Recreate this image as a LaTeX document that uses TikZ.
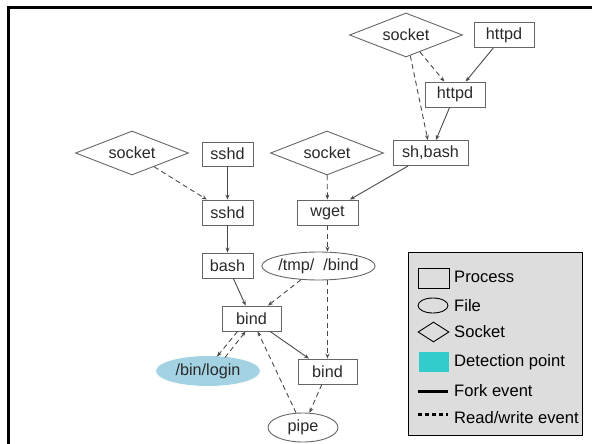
\documentclass[tikz,border=0pt]{standalone}
\usepackage{fontspec}
\setmainfont{Liberation Sans}
\usetikzlibrary{shapes.geometric,arrows.meta}
\definecolor{nodegray}{HTML}{666666}
\definecolor{edgegray}{HTML}{4A4A4A}
\definecolor{txtgray}{HTML}{2A2A2A}
\definecolor{legfill}{HTML}{DDDDDD}
\definecolor{detect}{HTML}{33CCCC}
\definecolor{loginblue}{HTML}{A3D3E3}
\tikzset{
  base/.style={draw=nodegray, line width=0.9pt, text=txtgray, inner sep=0pt,
    font=\fontsize{16.2}{19}\selectfont},
  proc/.style={base, rectangle, minimum height=25pt},
  fileshape/.style={base, ellipse, minimum height=28pt},
  sock/.style={base, diamond, aspect=2.5, minimum width=113pt, minimum height=44pt},
  fork/.style={draw=edgegray, line width=0.9pt, -{Stealth[length=5pt,width=4pt]}},
  rw/.style={fork, dash pattern=on 5pt off 3.5pt},
  legtext/.style={anchor=west, inner sep=0pt, font=\fontsize{16.6}{19}\selectfont},
}
\begin{document}
\begin{tikzpicture}[x=1pt,y=-1pt]
\useasboundingbox (0,0) rectangle (592,444);
\fill[white] (0,0) rectangle (592,444);
% frame
\draw[line width=3pt, line cap=rect] (8,444) -- (8,8) -- (592,8);

% nodes
\node[sock] (sock1) at (406,35) {socket};
\node[proc, minimum width=60pt] (httpd1) at (504,35) {httpd};
\node[proc, minimum width=60pt] (httpd2) at (455,94.5) {httpd};
\node[proc, minimum width=75pt] (shbash) at (430.5,153) {sh,bash};
\node[sock] (sock2) at (132,153) {socket};
\node[proc, minimum width=51pt, minimum height=24pt] (sshd1) at (227.5,154) {sshd};
\node[sock] (sock3) at (327,153) {socket};
\node[proc, minimum width=51pt] (sshd2) at (227.5,212.5) {sshd};
\node[proc, minimum width=61pt] (wget) at (327.5,212.5) {wget};
\node[proc, minimum width=51pt] (bash) at (227.5,265.5) {bash};
\node[fileshape, minimum width=107pt] (tmp) at (318.5,266) {/tmp/\ \ /bind};
\node[proc, minimum width=59pt] (bind1) at (251.5,318.5) {bind};
\node[fileshape, minimum width=104pt, minimum height=30pt, draw=none, fill=loginblue] (login) at (208,371) {/bin/login};
\node[proc, minimum width=59pt] (bind2) at (327.5,371.5) {bind};
\node[fileshape, minimum width=70pt, minimum height=29pt] (pipe) at (303,427.5) {pipe};

% edges
\draw[rw] (sock1) -- (httpd2);
\draw[rw] (sock1) -- (shbash);
\draw[fork] (httpd1) -- (httpd2);
\draw[fork] (httpd2) -- (shbash);
\draw[rw] (sock2) -- (sshd2);
\draw[fork] (sshd1) -- (sshd2);
\draw[fork] (sshd2) -- (bash);
\draw[rw] (sock3) -- (wget);
\draw[fork] (shbash) -- (wget);
\draw[rw] (wget.south) -- (wget.south |- tmp.north);
\draw[fork] (bash) -- (bind1);
\draw[rw] (tmp) -- (bind1);
\draw[rw] (tmp.south -| bind2.north) -- (bind2.north);
\draw[fork] (bind1) -- (bind2);
\draw[rw] ([xshift=-14pt]bind1.south) -- ([xshift=9pt,yshift=-1pt]login.north);
\draw[rw] ([xshift=17pt,yshift=-2pt]login.north) -- ([xshift=-6pt]bind1.south);
\draw[rw] (pipe) -- (bind1);
\draw[rw] (bind2) -- (pipe);

% legend
\node[draw=black, line width=0.7pt, fill=legfill, minimum width=174pt, minimum height=183pt, inner sep=0pt] (legend) at (495,343.5) {};
\node[draw=black, line width=0.9pt, minimum width=31pt, minimum height=20pt, inner sep=0pt] (lproc) at (433.5,278) {};
\node[legtext] (tproc) at (454,277) {Process};
\node[draw=black, line width=0.9pt, ellipse, minimum width=30pt, minimum height=15pt, inner sep=0pt] (lfile) at (433,305.5) {};
\node[legtext] (tfile) at (454,306) {File};
\node[draw=black, line width=0.9pt, diamond, aspect=1.55, minimum width=31pt, minimum height=20pt, inner sep=0pt] (lsock) at (433.5,332) {};
\node[legtext] (tsock) at (454,332) {Socket};
\node[fill=detect, minimum width=30pt, minimum height=20pt, inner sep=0pt] (ldet) at (434,362) {};
\node[legtext] (tdet) at (454,362) {Detection point};
\coordinate (lforka) at (418,391);
\coordinate (lforkb) at (448,391);
\draw[line width=3pt] (lforka) -- (lforkb);
\node[legtext] (tfork) at (454,391) {Fork event};
\coordinate (lrwa) at (418,414);
\coordinate (lrwb) at (448,414);
\draw[line width=3pt, dash pattern=on 4pt off 3pt] (lrwa) -- (lrwb);
\node[legtext] (trw) at (454,418) {Read/write event};
\end{tikzpicture}
\end{document}
